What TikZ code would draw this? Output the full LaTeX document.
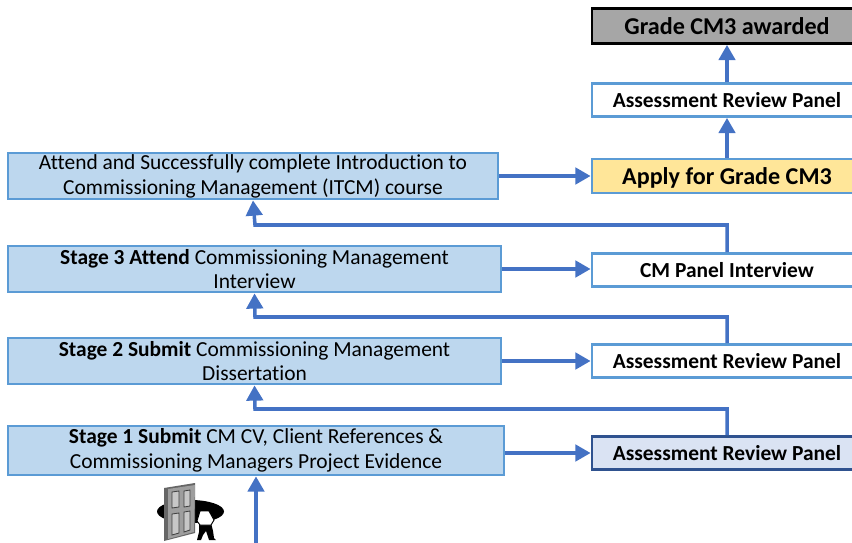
\documentclass[tikz,border=0pt]{standalone}
\usepackage{fontspec}
\setmainfont[Ligatures=NoCommon]{Carlito}
\usetikzlibrary{arrows.meta}

\definecolor{flowblue}{HTML}{4472C4}
\definecolor{edgeblue}{HTML}{5B9BD5}
\definecolor{stagefill}{HTML}{BDD7EE}
\definecolor{applyfill}{HTML}{FFE699}
\definecolor{darkedge}{HTML}{2F528F}
\definecolor{firstfill}{HTML}{DAE3F3}

\tikzset{
  flow/.style={draw=flowblue, line width=3pt, -{Triangle[length=13pt,width=14pt]}},
  stagebox/.style={draw=edgeblue, fill=stagefill, line width=2.4pt, inner sep=0pt, align=center,
    minimum width=490*0.03cm, font=\fontsize{18.3}{21.2}\selectfont},
  panelbox/.style={draw=edgeblue, fill=white, line width=2.4pt, inner sep=0pt,
    minimum width=270*0.03cm, minimum height=33*0.03cm, font=\fontsize{18.3}{22}\selectfont\bfseries}
}

\begin{document}
\begin{tikzpicture}[x=0.03cm, y=-0.03cm]
            \clip (0,0) rectangle (852,543);

            \node[panelbox, draw=black, fill=black!35, minimum height=35*0.03cm, font=\fontsize{20.6}{24}\selectfont\bfseries] (Grade) at (727,26) {Grade CM3 awarded};
            \node[panelbox] (Review) at (727,100) {Assessment Review Panel};
            \node[panelbox, fill=applyfill, minimum height=34*0.03cm, text depth=0pt, font=\fontsize{20.6}{24}\selectfont\bfseries] (Apply) at (727,176) {Apply for Grade CM3};
            \node[panelbox] (Interview) at (727,270) {CM Panel Interview};
            \node[panelbox] (PanelB) at (727,361) {Assessment Review Panel};
            \node[panelbox, draw=darkedge, fill=firstfill] (PanelA) at (727,453) {Assessment Review Panel};

            \node[stagebox, minimum height=46*0.03cm] (Course) at (253,176) {Attend and Successfully complete Introduction to\\Commissioning Management (ITCM) course};
            \node[stagebox, minimum width=493*0.03cm, minimum height=46*0.03cm] (Stage3) at (254.5,269) {\textbf{Stage 3 Attend} Commissioning Management\\Interview};
            \node[stagebox, minimum width=493*0.03cm, minimum height=46*0.03cm] (Stage2) at (254.5,361) {\textbf{Stage 2 Submit} Commissioning Management\\Dissertation};
            \node[stagebox, minimum width=496*0.03cm, minimum height=49*0.03cm] (Stage1) at (256,450.5) {\textbf{Stage 1 Submit} CM CV, Client References \&\\Commissioning Managers Project Evidence};

            \coordinate (Entry) at (256,543);
            \coordinate (TurnA) at (255,409);
            \coordinate (TurnB) at (255,317);
            \coordinate (TurnC) at (255,225);

            \draw[flow] (Apply.north) -- (Review.south);
            \draw[flow] (Review.north) -- (Grade.south);

            \draw[flow] (Course.east) -- (Apply.west);
            \draw[flow] (Stage3.east) -- (Interview.west |- Stage3.east);
            \draw[flow] (Stage2.east) -- (PanelB.west);
            \draw[flow] (Stage1.east |- PanelA.west) -- (PanelA.west);

            \draw[flow] (Entry) -- (Stage1.south);
            \draw[flow] (PanelA.north) |- (TurnA) -- (Stage2.south);
            \draw[flow] (PanelB.north) |- (TurnB) -- (Stage3.south);
            \draw[flow] (Interview.north) |- (TurnC) -- (Course.south);

            \fill[black] (190.5,511.5) ellipse (33.5 and 11.5);
            \fill[black!60] (164,488) -- (195,483) -- (195,533) -- (164,541) -- cycle;
            \fill[black!38] (168,489) -- (195,485) -- (194,532) -- (168,539) -- cycle;
            \draw[black!75, fill=black!22, line width=0.7pt] (172,492) -- (179,491) -- (179,507) -- (172,508) -- cycle;
            \draw[black!75, fill=black!22, line width=0.7pt] (184,491) -- (190,490) -- (190,506) -- (184,507) -- cycle;
            \draw[black!75, fill=black!22, line width=0.7pt] (172,514) -- (179,513) -- (179,533) -- (172,535) -- cycle;
            \draw[black!75, fill=black!22, line width=0.7pt] (184,512) -- (190,511) -- (190,530) -- (184,532) -- cycle;

            \fill[black] (199,523) -- (211,523) -- (213,531) -- (214,538) -- (216,540) -- (209,540) -- (206,531) -- (203,535) -- (201,540) -- (197,540) -- (199,532) -- cycle;
            \draw[black, fill=white, line width=0.8pt] (200,511) -- (209,511) -- (214,520) -- (211,525) -- (200,525) -- (197,521) -- cycle;
            \fill[black] (204,506.5) circle (3.8);
\end{tikzpicture}
\end{document}
